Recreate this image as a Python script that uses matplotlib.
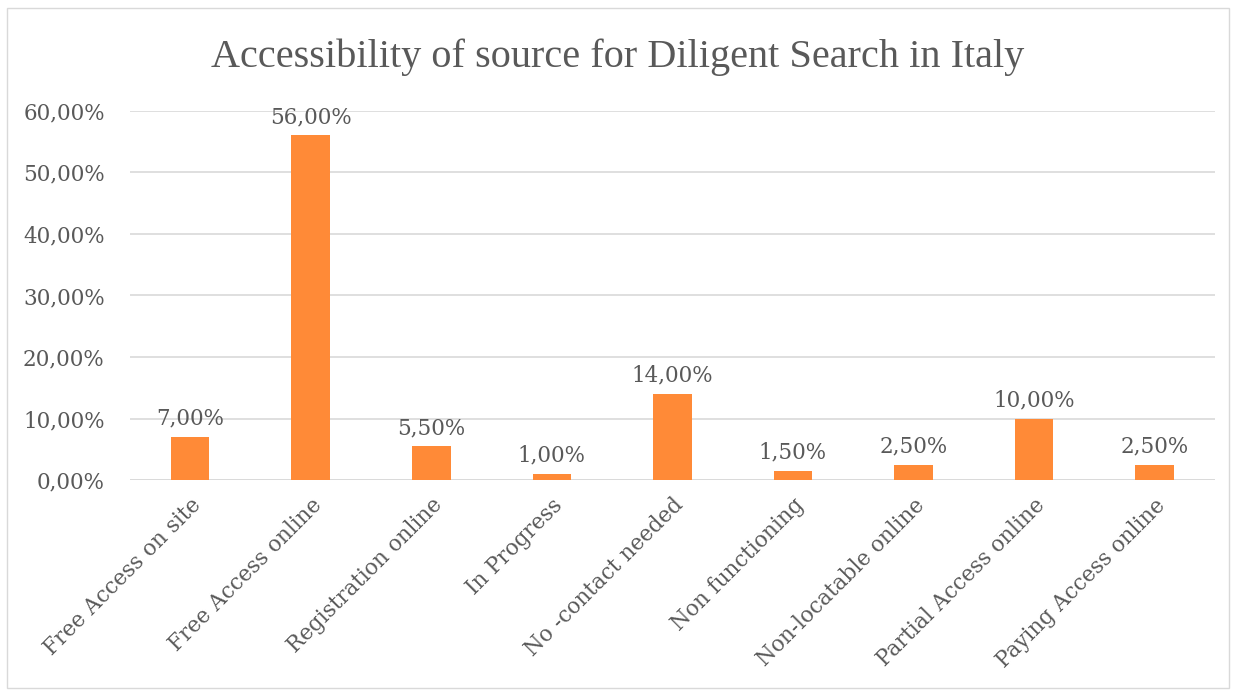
import matplotlib.pyplot as plt
from matplotlib.patches import Rectangle

categories = ["Free Access on site", "Free Access online", "Registration online",
              "In Progress", "No -contact needed", "Non functioning",
              "Non-locatable online", "Partial Access online", "Paying Access online"]
values = [0.07, 0.56, 0.055, 0.01, 0.14, 0.015, 0.025, 0.10, 0.025]
yticks = [0, 0.1, 0.2, 0.3, 0.4, 0.5, 0.6]

grey = "#595959"
fig = plt.figure(figsize=(12.36, 6.92), dpi=100)
ax = fig.add_axes([0.105, 0.306, 0.878, 0.534])

x = range(len(categories))
ax.bar(x, values, width=0.32, color="#FF8A37", zorder=3)
for i, v in zip(x, values):
    lbl = f"{v*100:.2f}%".replace(".", ",")
    ax.text(i, v + 0.012, lbl, ha="center", va="bottom", fontsize=15.5,
            family="DejaVu Serif", color=grey)

ax.set_ylim(0, 0.6)
ax.set_xlim(-0.5, len(categories) - 0.5)
ax.set_yticks(yticks)
ax.set_yticklabels([f"{t*100:.2f}%".replace(".", ",") for t in yticks],
                   family="DejaVu Serif", fontsize=15.5, color=grey)
ax.set_xticks(list(x))
ax.set_xticklabels(categories, rotation=45, ha="right", rotation_mode="anchor",
                   family="DejaVu Serif", fontsize=15.5, color=grey)
ax.tick_params(axis="y", length=0, pad=18)
ax.tick_params(axis="x", length=0, pad=10)
ax.yaxis.grid(True, color="#d9d9d9", linewidth=1.2, zorder=0)
for s in ax.spines.values():
    s.set_visible(False)
ax.axhline(0, color="#d9d9d9", linewidth=1.2, zorder=2)

fig.suptitle("Accessibility of source for Diligent Search in Italy", y=0.945,
             family="Liberation Serif", fontsize=29, color=grey)
fig.patches.append(Rectangle((0.006, 0.006), 0.988, 0.982, transform=fig.transFigure,
                             fill=False, edgecolor="#d9d9d9", linewidth=1))
fig.savefig("out.png", dpi=100)
